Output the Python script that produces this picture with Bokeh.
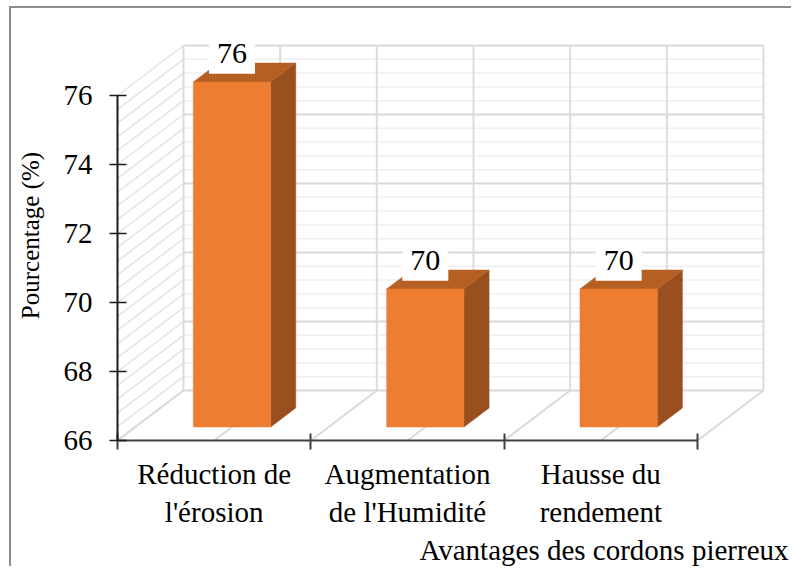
import numpy as np
from bokeh.plotting import figure
from bokeh.models import Range1d, FixedTicker, Title
from bokeh.core.properties import value
from bokeh.embed import file_html
from bokeh.resources import INLINE

# ---- data ----
categories = ["Réduction de\nl'érosion", "Augmentation\nde l'Humidité", "Hausse du\nrendement"]
percentages = [76, 70, 70]
value_labels = ["76", "70", "70"]
y_ticks = [66, 68, 70, 72, 74, 76]
y_axis_min, y_axis_max = 66, 76
x_title = "Avantages des cordons pierreux"
y_title = "Pourcentage (%)"

FONT_NAME = "Liberation Serif, Times New Roman, serif"
FONT = value(FONT_NAME)

# ---- geometry ----
W, H = 782, 560
B_LEFT, B_RIGHT, B_TOP, B_BOTTOM = 106, 0, 22, 128
frame_w = W - B_LEFT - B_RIGHT
frame_h = H - B_TOP - B_BOTTOM
PX_PER_CAT = 193.33
PX_PER_UNIT = 34.5
n = len(categories)
x_end = frame_w / PX_PER_CAT
y_end = y_axis_min + frame_h / PX_PER_UNIT

DX = 66 / PX_PER_CAT      # depth shift in x units
DY = 50 / PX_PER_UNIT     # depth shift in y units
F = 0.27                  # bar front position (fraction of depth)
D = 0.38                  # bar depth (fraction of depth)
BAR_W = 0.40

p = figure(width=W, height=H, output_backend="svg", toolbar_location=None,
           x_range=Range1d(0, x_end), y_range=Range1d(y_axis_min, y_end),
           min_border_left=B_LEFT, min_border_right=B_RIGHT,
           min_border_top=B_TOP, min_border_bottom=B_BOTTOM)
p.outline_line_color = None
p.xgrid.visible = False
p.ygrid.visible = False
p.styles = {"border-top": "2px solid #8c8c8c", "border-left": "2px solid #8c8c8c",
            "margin-left": "9px", "margin-top": "6px"}

# ---- walls and floor ----
levels = np.round(np.arange(y_axis_min, y_axis_max + 0.001, 0.4), 2)
major = [abs((lv - y_axis_min) % 2) < 1e-6 for lv in levels]
minor_lv = [lv for lv, m in zip(levels, major) if not m]
major_lv = [lv for lv, m in zip(levels, major) if m]

# side wall diagonals
p.segment(x0=[0] * len(levels), y0=list(levels), x1=[DX] * len(levels),
          y1=[lv + DY for lv in levels], line_color="#e3e3e3", line_width=1.5)
# back wall horizontals
p.segment(x0=[DX] * len(minor_lv), y0=[lv + DY for lv in minor_lv],
          x1=[n + DX] * len(minor_lv), y1=[lv + DY for lv in minor_lv],
          line_color="#efefef", line_width=1.5)
p.segment(x0=[DX] * len(major_lv), y0=[lv + DY for lv in major_lv],
          x1=[n + DX] * len(major_lv), y1=[lv + DY for lv in major_lv],
          line_color="#d9d9d9", line_width=2)
# back wall verticals
vx = [k * 0.5 for k in range(2 * n + 1)]
p.segment(x0=[v + DX for v in vx], y0=[y_axis_min + DY] * len(vx),
          x1=[v + DX for v in vx], y1=[y_axis_max + DY] * len(vx),
          line_color="#dcdcdc", line_width=2)
# floor diagonals
p.segment(x0=vx, y0=[y_axis_min] * len(vx), x1=[v + DX for v in vx],
          y1=[y_axis_min + DY] * len(vx), line_color="#d9d9d9", line_width=2)

# ---- bars ----
cx = [i + 0.5 + F * DX for i in range(n)]
x0 = [c - BAR_W / 2 for c in cx]
x1 = [c + BAR_W / 2 for c in cx]
yb = [y_axis_min + F * DY] * n
yt = [v + F * DY for v in percentages]

side_xs = [[a, a + D * DX, a + D * DX, a] for a in x1]
side_ys = [[b, b + D * DY, t + D * DY, t] for b, t in zip(yb, yt)]
top_xs = [[a, b, b + D * DX, a + D * DX] for a, b in zip(x0, x1)]
top_ys = [[t, t, t + D * DY, t + D * DY] for t in yt]

p.patches(side_xs, side_ys, fill_color="#9a4f1e", line_color="#9a4f1e", line_width=0.5)
p.patches(top_xs, top_ys, fill_color="#b55f22", line_color="#b55f22", line_width=0.5)
p.quad(left=x0, right=x1, bottom=yb, top=yt, fill_color="#ed7d31",
       line_color="#ed7d31", line_width=0.5)

# ---- data labels ----
ly = [t + 0.82 for t in yt]
p.rect(x=cx, y=ly, width=46, height=40, width_units="screen", height_units="screen",
       fill_color="white", line_color=None)
p.text(x=cx, y=ly, text=value_labels, text_align="center", text_baseline="middle",
       text_font=FONT, text_font_size="30px", text_color="#000000")

# ---- axes ----
xa = p.xaxis[0]
xa.ticker = FixedTicker(ticks=[i + 0.5 for i in range(n)], minor_ticks=list(range(n + 1)))
xa.major_label_overrides = {i + 0.5: c for i, c in enumerate(categories)}
xa.bounds = (0, n)
xa.axis_line_color = "#404040"
xa.axis_line_width = 2
xa.major_tick_line_color = None
xa.minor_tick_line_color = "#404040"
xa.minor_tick_line_width = 2
xa.minor_tick_in = 7
xa.minor_tick_out = 9
xa.major_label_standoff = 8
xa.major_label_text_font = FONT_NAME
xa.major_label_text_font_size = "29px"
xa.major_label_text_color = "#000000"

ya = p.yaxis[0]
ya.ticker = FixedTicker(ticks=y_ticks, minor_ticks=[])
ya.bounds = (y_axis_min, y_axis_max)
ya.axis_line_color = "#1a1a1a"
ya.axis_line_width = 2
ya.major_tick_line_color = "#1a1a1a"
ya.major_tick_line_width = 1.5
ya.major_tick_in = 9
ya.major_tick_out = 8
ya.major_label_standoff = 17
ya.major_label_text_font = FONT_NAME
ya.major_label_text_font_size = "29px"
ya.major_label_text_color = "#000000"
ya.axis_label = y_title
ya.axis_label_text_font = FONT_NAME
ya.axis_label_text_font_size = "25px"
ya.axis_label_text_font_style = "normal"
ya.axis_label_text_color = "#000000"
ya.axis_label_standoff = 17

t = Title(text=x_title, align="right", text_font=FONT_NAME,
          text_font_size="29px", text_font_style="normal", text_color="#000000",
          standoff=2, offset=5)
p.add_layout(t, "below")

open("out.html", "w").write(file_html(p, INLINE))
